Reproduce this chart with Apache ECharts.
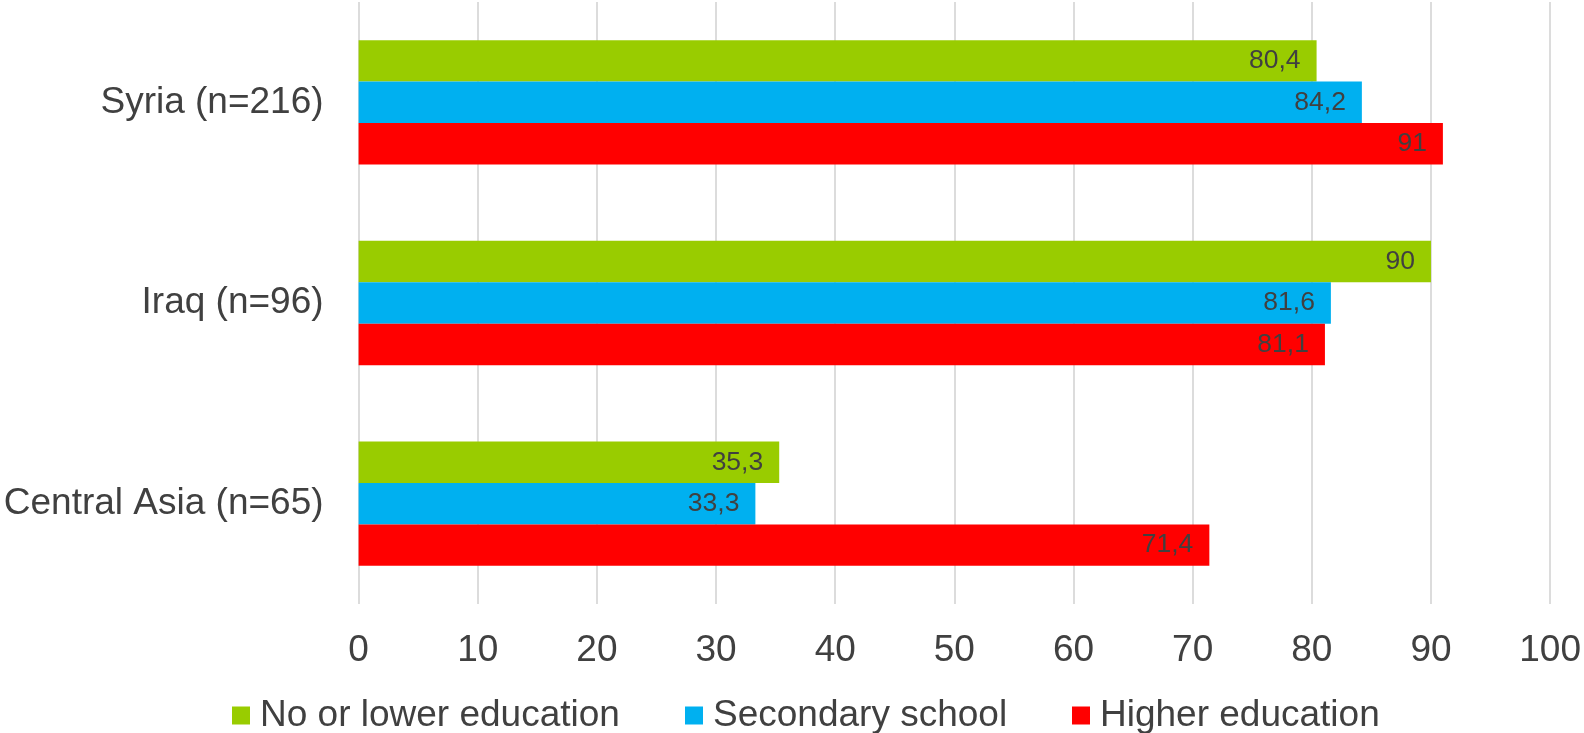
<!DOCTYPE html>
<html>
<head>
<meta charset="utf-8">
<style>
html,body{margin:0;padding:0;background:#fff;}
#chart{width:1584px;height:733px;}
</style>
<script src="https://cdn.jsdelivr.net/npm/echarts@6/dist/echarts.min.js"></script>
</head>
<body>
<div id="chart"></div>
<script>
const categories = ['Syria (n=216)', 'Iraq (n=96)', 'Central Asia (n=65)'];
const seriesNames = ['No or lower education', 'Secondary school', 'Higher education'];
const noLowerEducation = [80.4, 90, 35.3];
const secondarySchool = [84.2, 81.6, 33.3];
const higherEducation = [91, 81.1, 71.4];
const xTicks = [0, 10, 20, 30, 40, 50, 60, 70, 80, 90, 100];
const colors = ['#99CC00', '#00B0F0', '#FF0000'];

const textColor = '#404040';
const fontFamily = '"Liberation Sans", Arial, sans-serif';
const chart = echarts.init(document.getElementById('chart'), null, {renderer: 'canvas'});

const values = [noLowerEducation, secondarySchool, higherEducation];
const legendLefts = [232, 685, 1072];

const series = seriesNames.map((name, i) => ({
  name: name,
  type: 'bar',
  data: values[i],
  barGap: '0%',
  barCategoryGap: '38%',
  itemStyle: {color: colors[i]},
  label: {
    show: true,
    position: 'insideRight',
    distance: 16,
    color: textColor,
    fontSize: 26.5,
    fontFamily: fontFamily,
    formatter: p => String(p.value).replace('.', ',')
  }
}));

chart.setOption({
  animation: false,
  backgroundColor: '#ffffff',
  grid: {left: 358.6, right: 29.5, top: 2, height: 602},
  xAxis: {
    type: 'value',
    min: xTicks[0],
    max: xTicks[xTicks.length - 1],
    interval: 10,
    axisLine: {show: false},
    axisTick: {show: false},
    splitLine: {show: true, lineStyle: {color: '#dcdcdc', width: 2}},
    axisLabel: {color: textColor, fontSize: 37, fontFamily: fontFamily, margin: 28}
  },
  yAxis: {
    type: 'category',
    data: categories,
    inverse: true,
    axisLine: {show: false},
    axisTick: {show: false},
    axisLabel: {color: textColor, fontSize: 37, fontFamily: fontFamily, margin: 35}
  },
  legend: seriesNames.map((name, i) => ({
    data: [name],
    left: legendLefts[i],
    top: 697,
    padding: 0,
    icon: 'rect',
    itemWidth: 18,
    itemHeight: 18,
    textStyle: {color: textColor, fontSize: 37, fontFamily: fontFamily, padding: [0, 0, 0, 5]}
  })),
  series: series
});
</script>
</body>
</html>
